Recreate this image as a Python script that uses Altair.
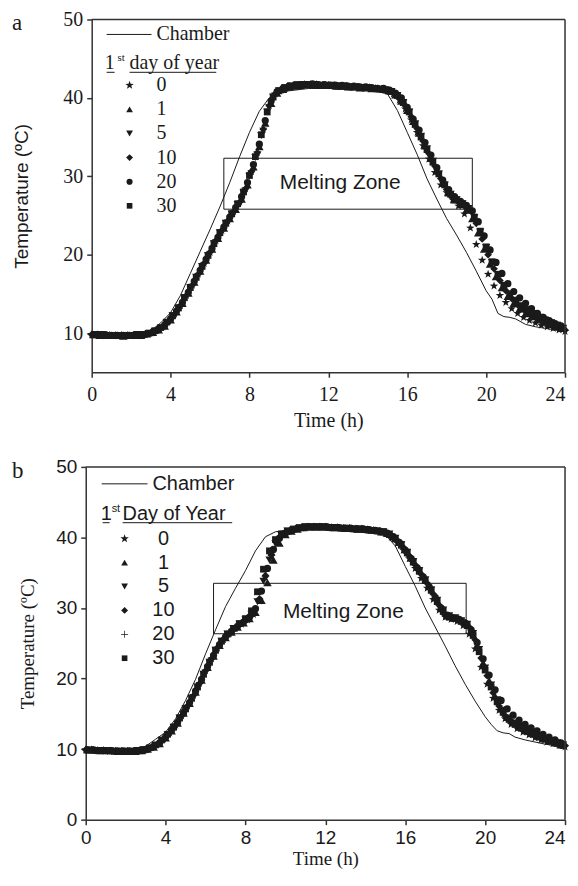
import altair as alt
import pandas as pd

# ---------------- data ----------------
# logging times (h); the six series are read at staggered times
TIMES = [0.0, 0.3, 0.6, 0.9, 1.2, 1.5, 1.8, 2.1, 2.4, 2.7,
         3.0, 3.3, 3.6, 3.9, 4.2, 4.5, 4.8, 5.1, 5.4, 5.7,
         6.0, 6.3, 6.6, 6.9, 7.2, 7.5, 7.8, 8.1, 8.4, 8.7,
         9.0, 9.3, 9.6, 9.9, 10.2, 10.5, 10.8, 11.1, 11.4, 11.7,
         12.0, 12.3, 12.6, 12.9, 13.2, 13.5, 13.8, 14.1, 14.4, 14.7,
         15.0, 15.3, 15.6, 15.9, 16.2, 16.5, 16.8, 17.1, 17.4, 17.7,
         18.0, 18.3, 18.6, 18.9, 19.2, 19.5, 19.8, 20.1, 20.4, 20.7,
         21.0, 21.3, 21.6, 21.9, 22.2, 22.5, 22.8, 23.1, 23.4, 23.7,
         24.0]
TIMES_P1 = [0.1, 0.4, 0.7, 1.0, 1.3, 1.6, 1.9, 2.2, 2.5, 2.8,
            3.1, 3.4, 3.7, 4.0, 4.3, 4.6, 4.9, 5.2, 5.5, 5.8,
            6.1, 6.4, 6.7, 7.0, 7.3, 7.6, 7.9, 8.2, 8.5, 8.8,
            9.1, 9.4, 9.7, 10.0, 10.3, 10.6, 10.9, 11.2, 11.5, 11.8,
            12.1, 12.4, 12.7, 13.0, 13.3, 13.6, 13.9, 14.2, 14.5, 14.8,
            15.1, 15.4, 15.7, 16.0, 16.3, 16.6, 16.9, 17.2, 17.5, 17.8,
            18.1, 18.4, 18.7, 19.0, 19.3, 19.6, 19.9, 20.2, 20.5, 20.8,
            21.1, 21.4, 21.7, 22.0, 22.3, 22.6, 22.9, 23.2, 23.5, 23.8]
TIMES_P2 = [0.2, 0.5, 0.8, 1.1, 1.4, 1.7, 2.0, 2.3, 2.6, 2.9,
            3.2, 3.5, 3.8, 4.1, 4.4, 4.7, 5.0, 5.3, 5.6, 5.9,
            6.2, 6.5, 6.8, 7.1, 7.4, 7.7, 8.0, 8.3, 8.6, 8.9,
            9.2, 9.5, 9.8, 10.1, 10.4, 10.7, 11.0, 11.3, 11.6, 11.9,
            12.2, 12.5, 12.8, 13.1, 13.4, 13.7, 14.0, 14.3, 14.6, 14.9,
            15.2, 15.5, 15.8, 16.1, 16.4, 16.7, 17.0, 17.3, 17.6, 17.9,
            18.2, 18.5, 18.8, 19.1, 19.4, 19.7, 20.0, 20.3, 20.6, 20.9,
            21.2, 21.5, 21.8, 22.1, 22.4, 22.7, 23.0, 23.3, 23.6, 23.9]

SERIES = ["0", "1", "5", "10", "20", "30"]
SERIES_TIMES = [TIMES, TIMES_P1, TIMES_P2, TIMES, TIMES_P1, TIMES_P2]

# panel a
A_DAY0 = [9.8, 9.8, 9.7, 9.7, 9.7, 9.7, 9.7, 9.7, 9.7, 9.8,
          10.0, 10.3, 10.8, 11.5, 12.4, 13.5, 14.8, 16.1, 17.5, 18.9,
          20.3, 21.8, 23.1, 24.3, 25.5, 26.7, 28.4, 30.6, 33.0, 36.0,
          39.0, 40.5, 41.0, 41.3, 41.5, 41.6, 41.7, 41.7, 41.7, 41.6,
          41.6, 41.6, 41.5, 41.5, 41.4, 41.4, 41.3, 41.3, 41.2, 41.1,
          40.9, 40.5, 39.7, 38.6, 37.2, 35.6, 33.9, 32.2, 30.5, 28.9,
          27.9, 27.0, 26.2, 25.2, 23.4, 21.3, 19.3, 17.5, 16.0, 14.8,
          13.9, 13.1, 12.5, 12.0, 11.6, 11.3, 11.0, 10.8, 10.6, 10.4,
          10.2]
A_DAY1 = [9.8, 9.7, 9.7, 9.7, 9.7, 9.6, 9.7, 9.7, 9.7, 9.9,
          10.1, 10.4, 10.9, 11.7, 12.7, 13.8, 15.1, 16.5, 17.9, 19.3,
          20.7, 22.1, 23.4, 24.6, 25.8, 27.1, 28.9, 31.2, 33.8, 36.8,
          39.3, 40.6, 41.1, 41.4, 41.5, 41.6, 41.7, 41.7, 41.6, 41.6,
          41.6, 41.5, 41.5, 41.4, 41.4, 41.3, 41.3, 41.2, 41.2, 41.1,
          40.9, 40.4, 39.6, 38.4, 37.0, 35.5, 33.9, 32.3, 30.7, 29.1,
          27.9, 27.0, 26.4, 25.7, 24.6, 22.8, 20.7, 18.8, 17.2, 15.8,
          14.7, 13.8, 13.1, 12.5, 12.1, 11.7, 11.4, 11.1, 10.8, 10.6]
A_DAY5 = [9.8, 9.8, 9.7, 9.7, 9.7, 9.7, 9.7, 9.8, 9.8, 9.9,
          10.2, 10.6, 11.3, 12.2, 13.2, 14.5, 15.8, 17.1, 18.5, 19.9,
          21.4, 22.8, 24.0, 25.2, 26.4, 27.9, 30.0, 32.4, 35.2, 38.2,
          40.1, 40.9, 41.3, 41.5, 41.6, 41.7, 41.7, 41.7, 41.6, 41.6,
          41.6, 41.5, 41.5, 41.4, 41.4, 41.3, 41.3, 41.2, 41.1, 41.0,
          40.8, 40.3, 39.4, 38.2, 36.7, 35.1, 33.5, 31.9, 30.3, 28.9,
          27.7, 27.0, 26.5, 25.9, 24.7, 22.9, 20.9, 19.0, 17.4, 16.0,
          14.9, 14.1, 13.4, 12.9, 12.4, 12.0, 11.6, 11.3, 11.0, 10.6]
A_DAY10 = [9.8, 9.8, 9.7, 9.7, 9.7, 9.7, 9.7, 9.7, 9.7, 9.8,
           10.0, 10.3, 10.8, 11.5, 12.4, 13.5, 14.8, 16.1, 17.5, 18.9,
           20.3, 21.8, 23.1, 24.3, 25.5, 26.7, 28.4, 30.6, 33.0, 36.0,
           39.0, 40.5, 41.0, 41.3, 41.5, 41.6, 41.7, 41.7, 41.7, 41.6,
           41.6, 41.6, 41.5, 41.5, 41.4, 41.4, 41.3, 41.3, 41.2, 41.1,
           41.0, 40.7, 40.1, 39.0, 37.6, 36.1, 34.5, 32.9, 31.3, 29.7,
           28.3, 27.3, 26.7, 26.2, 25.6, 24.0, 22.0, 20.0, 18.2, 16.7,
           15.4, 14.4, 13.6, 13.0, 12.5, 12.1, 11.8, 11.4, 11.1, 10.9,
           10.4]
A_DAY20 = [9.8, 9.8, 9.8, 9.7, 9.7, 9.7, 9.7, 9.7, 9.7, 9.9,
           10.1, 10.5, 11.0, 11.8, 12.8, 13.9, 15.2, 16.6, 18.0, 19.4,
           20.8, 22.2, 23.5, 24.8, 26.0, 27.4, 29.2, 31.5, 34.1, 37.1,
           39.6, 40.8, 41.2, 41.5, 41.6, 41.7, 41.7, 41.8, 41.7, 41.7,
           41.6, 41.6, 41.6, 41.5, 41.5, 41.4, 41.4, 41.3, 41.2, 41.2,
           41.0, 40.6, 40.0, 38.8, 37.3, 35.9, 34.3, 32.7, 31.1, 29.5,
           28.3, 27.4, 26.8, 26.3, 25.6, 24.2, 22.4, 20.6, 19.0, 17.6,
           16.3, 15.3, 14.5, 13.8, 13.1, 12.5, 12.0, 11.6, 11.2, 10.9]
A_DAY30 = [9.8, 9.7, 9.7, 9.7, 9.7, 9.7, 9.7, 9.7, 9.8, 10.0,
           10.3, 10.7, 11.4, 12.2, 13.2, 14.5, 15.8, 17.1, 18.5, 19.9,
           21.4, 22.8, 24.0, 25.2, 26.5, 28.0, 30.1, 32.5, 35.3, 38.2,
           40.1, 40.9, 41.3, 41.5, 41.7, 41.7, 41.7, 41.7, 41.6, 41.6,
           41.6, 41.5, 41.5, 41.4, 41.4, 41.3, 41.3, 41.2, 41.1, 41.0,
           40.8, 40.3, 39.4, 38.2, 36.6, 35.0, 33.4, 31.8, 30.3, 28.9,
           27.7, 27.0, 26.5, 25.9, 24.8, 23.0, 21.0, 19.1, 17.5, 16.1,
           15.0, 14.2, 13.5, 13.0, 12.5, 12.0, 11.7, 11.3, 11.0, 10.6]

# panel b
B_DAY0 = [9.9, 9.9, 9.8, 9.8, 9.7, 9.7, 9.7, 9.7, 9.7, 9.8,
          9.9, 10.2, 10.7, 11.4, 12.3, 13.4, 14.7, 16.1, 17.6, 19.3,
          21.1, 22.8, 24.3, 25.5, 26.4, 27.1, 27.7, 28.3, 29.1, 31.0,
          34.3, 37.3, 39.4, 40.4, 40.9, 41.2, 41.4, 41.5, 41.5, 41.5,
          41.5, 41.4, 41.4, 41.3, 41.3, 41.2, 41.2, 41.1, 41.0, 40.9,
          40.6, 40.1, 39.2, 38.2, 37.0, 35.6, 34.2, 32.8, 31.2, 29.7,
          28.7, 28.4, 28.1, 27.5, 26.3, 24.2, 21.6, 19.2, 17.2, 15.5,
          14.3, 13.5, 12.9, 12.4, 12.0, 11.6, 11.3, 11.0, 10.8, 10.6,
          10.3]
B_DAY1 = [9.9, 9.9, 9.8, 9.8, 9.8, 9.7, 9.7, 9.7, 9.7, 9.8,
          10.0, 10.3, 10.8, 11.6, 12.6, 13.7, 15.1, 16.5, 18.1, 19.8,
          21.6, 23.2, 24.7, 25.8, 26.6, 27.3, 27.9, 28.5, 29.4, 31.1,
          33.6, 36.8, 39.2, 40.4, 40.9, 41.2, 41.4, 41.5, 41.5, 41.5,
          41.5, 41.4, 41.4, 41.3, 41.3, 41.2, 41.2, 41.1, 41.0, 40.8,
          40.6, 40.1, 39.3, 38.3, 37.1, 35.8, 34.5, 33.1, 31.6, 30.0,
          28.9, 28.6, 28.4, 27.9, 26.8, 24.7, 22.2, 19.7, 17.5, 15.7,
          14.5, 13.8, 13.2, 12.7, 12.3, 11.9, 11.5, 11.2, 10.9, 10.6]
B_DAY5 = [9.8, 9.8, 9.8, 9.7, 9.7, 9.7, 9.7, 9.7, 9.8, 9.9,
          10.1, 10.5, 11.2, 12.0, 13.1, 14.4, 15.7, 17.2, 18.8, 20.6,
          22.3, 24.0, 25.3, 26.3, 27.1, 27.7, 28.3, 29.1, 30.9, 33.8,
          36.8, 39.1, 40.3, 40.9, 41.1, 41.3, 41.5, 41.5, 41.5, 41.5,
          41.4, 41.4, 41.3, 41.3, 41.2, 41.2, 41.1, 41.0, 40.9, 40.8,
          40.5, 39.9, 39.0, 37.9, 36.6, 35.3, 34.0, 32.6, 31.1, 29.7,
          28.9, 28.6, 28.2, 27.7, 26.4, 24.1, 21.5, 19.1, 17.0, 15.5,
          14.4, 13.7, 13.2, 12.7, 12.2, 11.8, 11.5, 11.2, 10.9, 10.6]
B_DAY10 = [9.9, 9.9, 9.8, 9.8, 9.8, 9.7, 9.7, 9.7, 9.7, 9.8,
           9.9, 10.2, 10.7, 11.4, 12.3, 13.4, 14.7, 16.1, 17.6, 19.3,
           21.1, 22.8, 24.4, 25.6, 26.5, 27.2, 27.8, 28.4, 29.2, 31.3,
           34.6, 37.6, 39.6, 40.5, 40.9, 41.2, 41.4, 41.5, 41.5, 41.5,
           41.5, 41.4, 41.4, 41.3, 41.3, 41.2, 41.2, 41.1, 41.0, 40.9,
           40.7, 40.3, 39.6, 38.6, 37.4, 36.1, 34.8, 33.5, 32.0, 30.4,
           29.0, 28.6, 28.4, 28.0, 27.3, 25.5, 22.9, 20.4, 18.0, 16.1,
           14.7, 13.9, 13.4, 12.9, 12.4, 12.0, 11.6, 11.3, 11.0, 10.8,
           10.5]
B_DAY20 = [9.9, 9.9, 9.8, 9.8, 9.8, 9.7, 9.7, 9.7, 9.7, 9.8,
           10.0, 10.4, 10.9, 11.7, 12.7, 13.8, 15.2, 16.6, 18.2, 19.9,
           21.7, 23.3, 24.8, 25.9, 26.7, 27.4, 28.0, 28.7, 29.9, 32.4,
           35.6, 38.3, 39.9, 40.6, 41.0, 41.3, 41.4, 41.5, 41.5, 41.5,
           41.5, 41.4, 41.4, 41.3, 41.3, 41.2, 41.2, 41.1, 41.0, 40.8,
           40.6, 40.1, 39.3, 38.2, 37.0, 35.7, 34.4, 33.0, 31.5, 30.0,
           29.0, 28.6, 28.4, 27.9, 26.9, 25.1, 22.8, 20.5, 18.4, 16.9,
           15.7, 14.8, 14.1, 13.5, 13.0, 12.6, 12.1, 11.7, 11.3, 10.9]
B_DAY30 = [9.9, 9.8, 9.8, 9.8, 9.7, 9.7, 9.7, 9.7, 9.8, 9.9,
           10.2, 10.6, 11.3, 12.1, 13.1, 14.4, 15.7, 17.2, 18.8, 20.6,
           22.3, 24.0, 25.3, 26.3, 27.1, 27.8, 28.5, 29.6, 32.3, 35.5,
           38.1, 39.7, 40.5, 40.9, 41.2, 41.4, 41.5, 41.5, 41.5, 41.5,
           41.4, 41.4, 41.3, 41.3, 41.2, 41.2, 41.1, 41.0, 40.9, 40.8,
           40.4, 39.8, 38.9, 37.8, 36.5, 35.2, 33.9, 32.5, 30.9, 29.5,
           28.7, 28.5, 28.1, 27.5, 26.1, 23.8, 21.2, 18.8, 16.7, 15.2,
           14.2, 13.5, 13.0, 12.5, 12.1, 11.7, 11.4, 11.1, 10.8, 10.5]

CH_TIMES = [0, 1, 2, 2.5, 3.0, 3.5, 4.0, 4.5, 5.0, 5.5, 6.0, 6.5, 7.0, 7.5,
            8.0, 8.5, 9.0, 9.5, 10, 11, 12, 13, 14, 14.5, 15.0, 15.5, 16.0,
            16.5, 17.0, 17.5, 18.0, 18.5, 19.0, 19.5, 20.0, 20.3, 20.6, 20.9,
            21.2, 21.5, 22.0, 22.5, 23.0, 23.5, 24.0]
CH_A = [9.8, 9.8, 9.8, 9.9, 10.3, 11.3, 12.6, 14.8, 17.6, 20.4, 23.2, 26.1,
        29.2, 32.5, 35.6, 38.3, 40.0, 40.6, 40.9, 41.2, 41.2, 41.1, 41.0, 40.9,
        40.5, 38.4, 35.6, 32.8, 29.7, 27.1, 24.6, 22.5, 20.3, 17.9, 15.4, 14.3,
        12.5, 12.1, 12.0, 11.8, 11.1, 10.8, 10.6, 10.4, 10.2]
CH_B = [9.9, 9.9, 9.9, 10.0, 10.4, 11.4, 12.4, 14.3, 16.9, 19.9, 23.5, 26.9,
        30.2, 32.8, 35.3, 38.1, 40.1, 40.8, 41.0, 41.2, 41.3, 41.2, 41.1, 40.9,
        40.4, 38.8, 35.9, 33.1, 30.0, 27.3, 24.6, 21.8, 19.2, 16.8, 14.6, 13.5,
        12.6, 12.3, 12.2, 11.7, 11.3, 11.0, 10.7, 10.5, 10.3]

BOX_A = {"t1": 6.7, "t2": 19.3, "T1": 25.8, "T2": 32.3}
BOX_B = {"t1": 6.4, "t2": 19.05, "T1": 26.35, "T2": 33.5}
ZONE_LABEL = "Melting Zone"
ZONE_POS_A = (12.6, 29.1)
ZONE_POS_B = (12.9, 29.4)
X_TICKS = [0, 4, 8, 12, 16, 20, 24]

# ---------------- styling ----------------
INK = "#1a1a1a"
FRAME = "#333333"
SERIF = "Liberation Serif"
SANS = "Liberation Sans"
STAR = ("M0,-1L0.235,-0.324L0.951,-0.309L0.38,0.124L0.588,0.809L0,0.4"
        "L-0.588,0.809L-0.38,0.124L-0.951,-0.309L-0.235,-0.324Z")
PLUS = "M-0.1,-1H0.1V-0.1H1V0.1H0.1V1H-0.1V0.1H-1V-0.1H-0.1Z"
SHAPES_A = [STAR, "triangle-up", "triangle-down", "diamond", "circle", "square"]
SHAPES_B = [STAR, "triangle-up", "triangle-down", "diamond", PLUS, "square"]
SIZES_A = [80, 46, 46, 48, 38, 32]
SIZES_B = [80, 46, 46, 48, 50, 32]


def long_df(cols):
    rows = []
    for s, ts, vals in zip(SERIES, SERIES_TIMES, cols):
        for t, v in zip(ts, vals):
            rows.append({"t": t, "T": v, "series": s})
    return pd.DataFrame(rows)


def one(**kw):
    return pd.DataFrame({k: [v] for k, v in kw.items()})


def txt(s, x, y, font, size, align="left", baseline="middle"):
    return alt.Chart(one(s=s)).mark_text(
        font=font, fontSize=size, align=align, baseline=baseline, color=INK
    ).encode(text="s:N", x=alt.value(x), y=alt.value(y))


def hrule(x1, x2, y, w=1.0, color=INK):
    return alt.Chart(one(k=0)).mark_rule(color=color, strokeWidth=w).encode(
        x=alt.value(x1), x2=alt.value(x2), y=alt.value(y))


def vrule(x, y1, y2, w=1.0, color=INK):
    return alt.Chart(one(k=0)).mark_rule(color=color, strokeWidth=w).encode(
        x=alt.value(x), y=alt.value(y1), y2=alt.value(y2))


def panel(p):
    W, H, x0 = p["width"], p["height"], p["x0"]
    xs = alt.Scale(domain=[0, 24], nice=False, zero=False, range=[x0, W])
    ys = alt.Scale(domain=p["ydom"], nice=False, zero=False)
    common_axis = dict(grid=False, domainColor=FRAME, domainWidth=1.5,
                       tickColor=FRAME, tickWidth=1.5, tickSize=5,
                       labelColor=INK, labelFont=p["lab_font"], labelFontSize=p["lab_size"],
                       titleColor=INK, titleFontWeight="normal")
    xaxis = alt.Axis(values=X_TICKS, title="Time (h)", titleFont=SERIF,
                     titleFontSize=p["xtitle_size"], labelFlush=False,
                     labelAlign={"condition": {"test": "datum.value == 24", "value": "right"},
                                 "value": "center"},
                     labelPadding=p["xlab_pad"], titlePadding=p["xtitle_pad"], **common_axis)
    yaxis = alt.Axis(values=p["yvals"], title="Temperature (ºC)", titleFont=p["ytitle_font"],
                     titleFontSize=19, titleX=p["ytitle_x"], titleY=H / 2,
                     titleBaseline="middle", labelPadding=4, offset=-x0, **common_axis)

    pts = alt.Chart(long_df(p["cols"])).mark_point(filled=True, opacity=1, color=INK).encode(
        x=alt.X("t:Q", scale=xs, axis=xaxis),
        y=alt.Y("T:Q", scale=ys, axis=yaxis),
        shape=alt.Shape("series:N", scale=alt.Scale(domain=SERIES, range=p["shapes"]), legend=None),
        size=alt.Size("series:N", scale=alt.Scale(domain=SERIES, range=p["sizes"]), legend=None),
    )
    ch = alt.Chart(pd.DataFrame({"t": CH_TIMES, "T": p["chamber"]})).mark_line(
        color=INK, strokeWidth=1).encode(x=alt.X("t:Q", scale=xs), y=alt.Y("T:Q", scale=ys))
    bx = alt.Chart(pd.DataFrame([p["box"]])).mark_rect(
        fillOpacity=0, stroke=INK, strokeWidth=1).encode(
        x=alt.X("t1:Q", scale=xs), x2="t2:Q", y=alt.Y("T1:Q", scale=ys), y2="T2:Q")
    zt = alt.Chart(pd.DataFrame({"t": [p["zone"][0]], "T": [p["zone"][1]], "s": [ZONE_LABEL]})).mark_text(
        font=SANS, fontSize=21, color=INK).encode(
        x=alt.X("t:Q", scale=xs), y=alt.Y("T:Q", scale=ys), text="s:N")

    layers = [ch, pts, bx, zt,
              hrule(x0, W, 0, 1.5, FRAME), vrule(W, 0, H, 1.5, FRAME)]
    # hand-made legend
    L = p["leg"]
    f = L["font"]
    layers.append(hrule(L["line"][0], L["line"][1], L["line_y"]))
    layers.append(txt("Chamber", L["text_x"], L["line_y"], f, 20))
    hy = L["head_y"]
    layers.append(txt("1", L["one_x"], hy, f, 20, baseline="alphabetic"))
    layers.append(txt("st", L["sup_x"], hy - 8, f, 11, baseline="alphabetic"))
    layers.append(txt(L["head"], L["head_x"], hy, f, 20, baseline="alphabetic"))
    layers.append(hrule(L["ul1"][0], L["ul1"][1], hy + 3))
    layers.append(hrule(L["ul2"][0], L["ul2"][1], hy + 3))
    for i, s in enumerate(SERIES):
        yy = L["row0"] + i * L["dy"]
        layers.append(alt.Chart(one(k=0)).mark_point(
            filled=True, opacity=1, color=INK, shape=p["shapes"][i], size=p["sizes"][i]).encode(
            x=alt.value(L["mark_x"]), y=alt.value(yy)))
        layers.append(txt(s, L["lab_x"], yy, f, 20, align=L["lab_align"]))
    layers.append(txt(p["letter"], p["letter_x"], 11, SERIF, 23, baseline="alphabetic"))
    return alt.layer(*layers).properties(width=W, height=H)


PANEL_A = dict(
    letter="a", cols=[A_DAY0, A_DAY1, A_DAY5, A_DAY10, A_DAY20, A_DAY30],
    chamber=CH_A, box=BOX_A, zone=ZONE_POS_A, shapes=SHAPES_A, sizes=SIZES_A,
    width=481, height=354, x0=6, ydom=[5, 50], yvals=[10, 20, 30, 40, 50],
    lab_font=SERIF, lab_size=20, ytitle_font=SANS, ytitle_x=-70.5, letter_x=-74,
    xlab_pad=7, xtitle_pad=6, xtitle_size=20,
    leg=dict(font=SERIF, line=(21, 66), line_y=15, text_x=71, one_x=19, sup_x=32,
             head_x=44, head="day of year", ul1=(21, 29), ul2=(44, 131), head_y=50,
             row0=66, dy=24.2, mark_x=44, lab_x=71, lab_align="left"),
)
PANEL_B = dict(
    letter="b", cols=[B_DAY0, B_DAY1, B_DAY5, B_DAY10, B_DAY20, B_DAY30],
    chamber=CH_B, box=BOX_B, zone=ZONE_POS_B, shapes=SHAPES_B, sizes=SIZES_B,
    width=481, height=354, x0=0, ydom=[0, 50], yvals=[0, 10, 20, 30, 40, 50],
    lab_font=SANS, lab_size=19, ytitle_font=SERIF, ytitle_x=-58, letter_x=-74,
    xlab_pad=4, xtitle_pad=2, xtitle_size=19,
    leg=dict(font=SANS, line=(16, 62), line_y=17, text_x=67, one_x=15, sup_x=26,
             head_x=37, head="Day of Year", ul1=(17, 24), ul2=(37, 147), head_y=53,
             row0=72, dy=24.0, mark_x=39, lab_x=78, lab_align="center"),
)

chart = alt.vconcat(panel(PANEL_A), panel(PANEL_B), spacing=28).properties(
    padding={"left": 4, "top": 0, "right": 0, "bottom": 0},
    background="white",
).configure_view(strokeWidth=0)

chart.save("out.html", embed_options={"renderer": "svg", "actions": False})
